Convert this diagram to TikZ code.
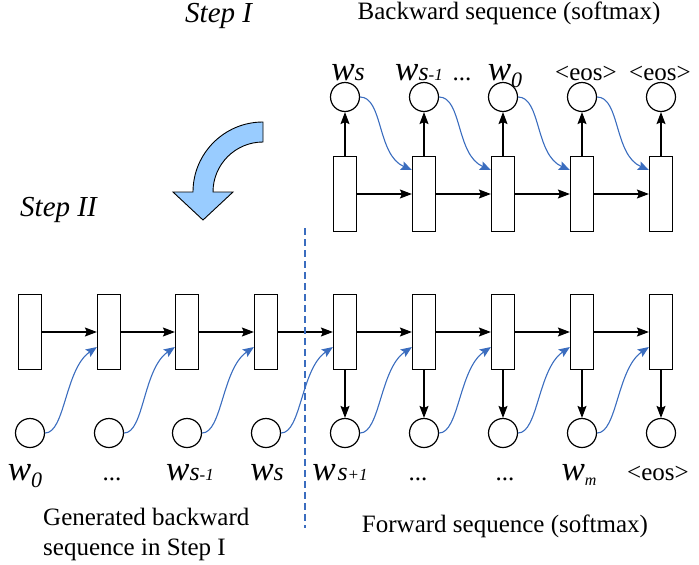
\documentclass[tikz,border=0pt]{standalone}
\usepackage{fontspec}
\setmainfont{Liberation Serif}
\usetikzlibrary{arrows.meta}

\definecolor{linkblue}{HTML}{3B6DBF}
\definecolor{arrowblue}{HTML}{99CCFF}

% word labels: big italic w with a smaller index on the baseline or lowered
\newcommand{\wsym}[2]{{\fontsize{35}{35}\selectfont\itshape w}{\fontsize{26}{26}\selectfont\itshape #1}{\fontsize{17}{17}\selectfont\itshape #2}}
\newcommand{\wlow}[2]{{\fontsize{35}{35}\selectfont\itshape w}\raisebox{-#2}{\fontsize{#1}{#1}\selectfont\itshape\wlowidx}}

\begin{document}
\begin{tikzpicture}[x=1pt, y=-1pt,
    cell/.style={draw, rectangle, line width=1.2pt, minimum width=23pt, minimum height=75pt, inner sep=0pt},
    unit/.style={draw, circle, line width=1.2pt, minimum size=29pt, inner sep=0pt},
    lbl/.style={anchor=base, inner sep=0pt, font=\fontsize{25}{30}\selectfont},
    steplbl/.style={anchor=base west, inner sep=0pt, font=\fontsize{29}{29}\selectfont\itshape},
    flow/.style={-{Stealth[length=12pt, width=9pt, inset=2pt]}, line width=1.2pt},
    feed/.style={-{Stealth[length=11pt, width=9pt, inset=2pt]}, line width=1.1pt, color=linkblue}]
    \useasboundingbox (0,0) rectangle (699,565);

    % Step I: backward network
    \foreach \i/\x in {1/345, 2/424, 3/503, 4/582, 5/661} {
        \node (b\i) [cell] at (\x,194) {};
        \node (bo\i) [unit] at (\x,97) {};
        \draw[flow] (b\i) -- (bo\i);
    }
    \foreach \i/\j in {1/2, 2/3, 3/4, 4/5} {
        \draw[flow] (b\i) -- (b\j);
        \draw[feed] (bo\i.east) .. controls +(23,0) and +(-35,-15) .. ([yshift=24pt]b\j.west);
    }

    % Step II: forward network
    \foreach \i/\x in {1/30, 2/109, 3/187, 4/266, 5/345, 6/424, 7/503, 8/582, 9/661} {
        \node (f\i) [cell] at (\x,332) {};
        \node (fo\i) [unit] at (\x,433) {};
    }
    \foreach \i/\j in {1/2, 2/3, 3/4, 4/5, 5/6, 6/7, 7/8, 8/9} {
        \draw[flow] (f\i) -- (f\j);
        \draw[feed] (fo\i.east) .. controls +(20,0) and +(-32,22) .. ([yshift=-15pt]f\j.west);
    }
    \foreach \i in {5,...,9}
        \draw[flow] (f\i) -- (fo\i);

    % split between the two sequences
    \coordinate (splittop) at (305,228);
    \coordinate (splitbot) at (305,528);
    \draw[linkblue, line width=1.2pt, dash pattern=on 7pt off 4pt] (splittop) -- (splitbot);

    % curved arrow from step I to step II
    \draw[fill=arrowblue, line width=0.9pt] (263,122) arc[start angle=270, end angle=180, radius=70]
        -- (173,192) -- (203,220) -- (233,192) -- (213,192)
        arc[start angle=180, end angle=270, radius=50] -- cycle;

    % labels
    \node (step1) [steplbl] at (185,22) {Step I};
    \node (step2) [steplbl] at (20,216) {Step II};
    \node (bwdtitle) [lbl] at (509,19) {Backward sequence (softmax)};
    \node (fwdtitle) [lbl] at (505,532) {Forward sequence (softmax)};
    \node (gentitle) [lbl, anchor=north west, align=left] at (43,508) {Generated backward\\sequence in Step I};

    \def\wlowidx{0}
    \node (tw1) [lbl] at (348,80) {\wsym{s}{}};
    \node (tw2) [lbl] at (419,80) {\wsym{s}{-1}};
    \node (tdots) [lbl] at (462,80) {...};
    \node (tw3) [lbl] at (505,80) {\wlow{22}{7pt}};
    \node (teos1) [lbl] at (586,80) {<eos>};
    \node (teos2) [lbl] at (660,80) {<eos>};

    \node (fw1) [lbl] at (25,480) {\wlow{22}{7pt}};
    \node (fdots1) [lbl] at (112,480) {...};
    \node (fw2) [lbl] at (190,480) {\wsym{s}{-1}};
    \node (fw3) [lbl] at (267,480) {\wsym{s}{}};
    \node (fw4) [lbl] at (340,480) {\wsym{\hspace{2pt}s}{+1}};
    \node (fdots2) [lbl] at (418,480) {...};
    \node (fdots3) [lbl] at (505,480) {...};
    \def\wlowidx{m}
    \node (fw5) [lbl] at (579,480) {\wlow{16}{5pt}};
    \node (feos) [lbl] at (658,480) {<eos>};
\end{tikzpicture}
\end{document}
